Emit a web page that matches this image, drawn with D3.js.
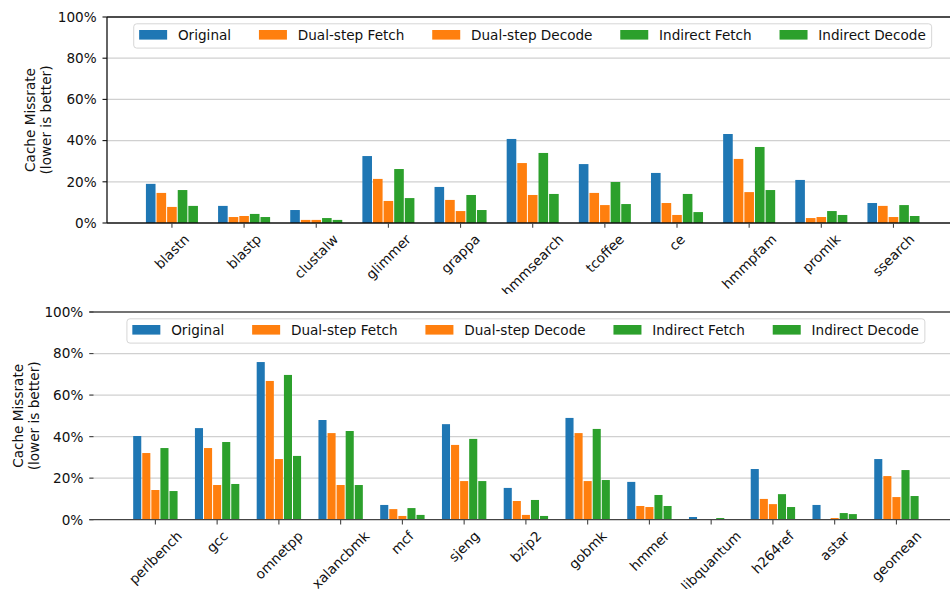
<!DOCTYPE html>
<html>
<head>
<meta charset="utf-8">
<script src="https://cdn.jsdelivr.net/npm/d3@7"></script>
<style>
  html, body { margin: 0; padding: 0; background: #ffffff; }
  svg { display: block; font-family: "DejaVu Sans", sans-serif; }
</style>
</head>
<body>
<svg id="chart" width="950" height="589"></svg>
<script>
// Series shared by both panels
const seriesNames = ["Original", "Dual-step Fetch", "Dual-step Decode", "Indirect Fetch", "Indirect Decode"];
const seriesColors = ["#1f77b4", "#ff7f0e", "#ff7f0e", "#2ca02c", "#2ca02c"];

// Y axis ticks (percent)
const yTickValues = [0, 20, 40, 60, 80, 100];
const yTickLabels = ["0%", "20%", "40%", "60%", "80%", "100%"];
const yAxisTitle = ["Cache Missrate", "(lower is better)"];

// Upper panel: bioinformatics workloads
const topCategories = ["blastn", "blastp", "clustalw", "glimmer", "grappa", "hmmsearch", "tcoffee", "ce", "hmmpfam", "promlk", "ssearch"];
const topOriginal     = [19.0, 8.3, 6.3, 32.5, 17.5, 40.8, 28.6, 24.3, 43.2, 20.9, 9.7];
const topDualFetch    = [14.6, 2.9, 1.5, 21.4, 11.2, 29.1, 14.6, 9.7, 31.1, 2.4, 8.3];
const topDualDecode   = [7.8, 3.4, 1.5, 10.7, 5.8, 13.6, 8.7, 3.9, 15.0, 2.9, 2.9];
const topIndirFetch   = [16.0, 4.4, 2.4, 26.2, 13.6, 34.0, 19.9, 14.1, 36.9, 5.8, 8.7];
const topIndirDecode  = [8.3, 2.9, 1.5, 12.1, 6.3, 14.1, 9.2, 5.3, 16.0, 3.9, 3.4];

// Lower panel: SPEC CPU2006 integer workloads
const botCategories = ["perlbench", "gcc", "omnetpp", "xalancbmk", "mcf", "sjeng", "bzip2", "gobmk", "hmmer", "libquantum", "h264ref", "astar", "geomean"];
const botOriginal     = [40.3, 44.1, 75.9, 48.0, 7.1, 46.0, 15.3, 49.0, 18.2, 1.3, 24.4, 7.1, 29.2];
const botDualFetch    = [32.1, 34.5, 66.8, 41.7, 5.1, 36.0, 9.0, 41.7, 6.6, 0.2, 10.0, 0.3, 21.0];
const botDualDecode   = [14.3, 16.7, 29.2, 16.7, 1.8, 18.6, 2.3, 18.6, 6.1, 0.2, 7.5, 0.8, 10.9];
const botIndirFetch   = [34.5, 37.4, 69.7, 42.7, 5.6, 38.9, 9.5, 43.7, 11.9, 0.8, 12.3, 3.2, 23.9];
const botIndirDecode  = [13.8, 17.2, 30.7, 16.7, 2.3, 18.6, 1.8, 19.1, 6.6, 0.3, 6.1, 2.7, 11.4];

const svg = d3.select("#chart");
const FONT = 13.6;
const TEXT = "#111111";

function drawPanel(id, categories, series, L) {
  svg.append("clipPath").attr("id", id + "-clip")
    .append("rect").attr("x", 0).attr("y", L.clipTop)
    .attr("width", 950).attr("height", L.clipBottom - L.clipTop);
  const g = svg.append("g").attr("clip-path", `url(#${id}-clip)`);

  const x = d3.scaleLinear().domain([-L.xPad, categories.length - 1 + L.xPad]).range([L.left, L.right]);
  const y = d3.scaleLinear().domain([0, 100]).range([L.bottom, L.top]);

  // horizontal grid
  g.append("g").selectAll("line").data(yTickValues.slice(1, -1)).join("line")
    .attr("x1", L.left).attr("x2", L.right)
    .attr("y1", d => y(d)).attr("y2", d => y(d))
    .attr("stroke", "#d0d0d0").attr("stroke-width", 1.3);

  // grouped bars, five per category
  const bw = 0.147;
  const unit = x(1) - x(0);
  series.forEach((vals, k) => {
    g.append("g").attr("fill", seriesColors[k])
      .selectAll("rect").data(vals).join("rect")
      .attr("x", (d, i) => x(i + (k - 2.5) * bw) + 0.5)
      .attr("width", bw * unit - 1)
      .attr("y", d => y(d))
      .attr("height", d => y(0) - y(d));
  });

  // spines
  const sp = g.append("g").attr("stroke", L.spineColor).attr("stroke-width", 1.3);
  sp.append("line").attr("x1", L.left).attr("x2", L.right).attr("y1", y(100)).attr("y2", y(100));
  sp.append("line").attr("x1", L.left).attr("x2", L.right).attr("y1", y(0)).attr("y2", y(0));
  if (L.leftSpine) {
    sp.append("line").attr("x1", L.left).attr("x2", L.left).attr("y1", y(100)).attr("y2", y(0));
  }

  // y ticks and labels
  g.append("g").selectAll("line").data(yTickValues).join("line")
    .attr("x1", L.left + L.yTickFrom).attr("x2", L.left + L.yTickTo)
    .attr("y1", d => y(d)).attr("y2", d => y(d))
    .attr("stroke", L.spineColor).attr("stroke-width", 1.1);
  g.append("g").selectAll("text").data(yTickValues).join("text")
    .attr("x", L.left - L.yLabelGap).attr("y", d => y(d)).attr("dy", "0.36em")
    .attr("text-anchor", "end").attr("font-size", FONT).attr("fill", TEXT)
    .text((d, i) => yTickLabels[i]);

  // x ticks
  g.append("g").selectAll("line").data(categories).join("line")
    .attr("x1", (d, i) => x(i)).attr("x2", (d, i) => x(i))
    .attr("y1", y(0)).attr("y2", y(0) + 4.8)
    .attr("stroke", "#444").attr("stroke-width", 1.1);

  // x tick labels, rotated 45 degrees and centred on the tick
  const H = FONT * 1.164;
  g.append("g").selectAll("text").data(categories).join("text")
    .attr("text-anchor", "middle").attr("font-size", FONT).attr("fill", TEXT)
    .attr("dy", (0.346 * FONT).toFixed(2))
    .text(d => d)
    .each(function (d, i) {
      const w = this.getComputedTextLength();
      const cy = y(0) + 8.3 + (w + H) * 0.35355;
      d3.select(this).attr("transform", `translate(${x(i)},${cy}) rotate(-45)`);
    });

  // y axis title (two lines)
  const cyMid = (y(0) + y(100)) / 2;
  yAxisTitle.forEach((t, j) => {
    g.append("text")
      .attr("transform", `translate(${L.titleX[j]},${cyMid}) rotate(-90)`)
      .attr("text-anchor", "middle").attr("font-size", FONT).attr("fill", TEXT)
      .text(t);
  });

  // legend, centred at the top of the axes, one row
  const lg = g.append("g");
  const box = lg.append("rect");
  const labels = seriesNames.map(n => lg.append("text").attr("font-size", FONT).attr("fill", TEXT).text(n));
  const widths = labels.map(t => t.node().getComputedTextLength());
  const hl = 28, hp = 10.8, cs = 27.8, padL = 5.4, padR = 5.9, boxH = 24.3;
  const total = padL + d3.sum(widths) + seriesNames.length * (hl + hp) + cs * (seriesNames.length - 1) + padR;
  const bx = (L.left + L.right) / 2 - total / 2;
  const by = y(100) + 6.8;
  box.attr("x", bx).attr("y", by).attr("width", total).attr("height", boxH)
    .attr("rx", 3).attr("fill", "#ffffff").attr("fill-opacity", 0.8)
    .attr("stroke", "#d6d6d6").attr("stroke-width", 1);
  let cx = bx + padL;
  seriesNames.forEach((n, k) => {
    lg.append("rect").attr("x", cx).attr("y", by + 6.2).attr("width", hl).attr("height", 9.6)
      .attr("fill", seriesColors[k]);
    labels[k].attr("x", cx + hl + hp).attr("y", by + 16.4);
    cx += hl + hp + widths[k] + cs;
  });
}

drawPanel("upper", topCategories,
  [topOriginal, topDualFetch, topDualDecode, topIndirFetch, topIndirDecode],
  { left: 107, right: 958.4, top: 17, bottom: 223, xPad: 0.9,
    clipTop: 0, clipBottom: 294, spineColor: "#111", leftSpine: true,
    yTickFrom: -4.5, yTickTo: 0, yLabelGap: 10.3, titleX: [35.3, 50.8] });

drawPanel("lower", botCategories,
  [botOriginal, botDualFetch, botDualDecode, botIndirFetch, botIndirDecode],
  { left: 89.3, right: 962.5, top: 312, bottom: 519.7, xPad: 1.07,
    clipTop: 294, clipBottom: 589, spineColor: "#444", leftSpine: false,
    yTickFrom: 0, yTickTo: 4.2, yLabelGap: 6, titleX: [23.3, 38.8] });
</script>
</body>
</html>
